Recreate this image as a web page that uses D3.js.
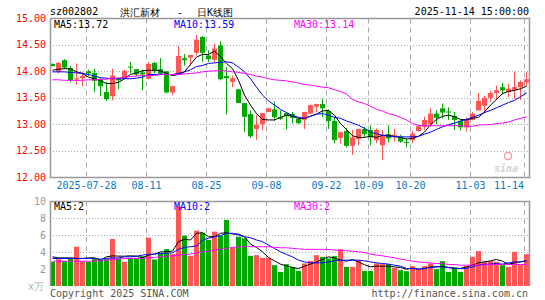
<!DOCTYPE html>
<html>
<head>
<meta charset="utf-8">
<script src="https://cdn.jsdelivr.net/npm/d3@7"></script>
<style>
  body { margin: 0; background: #fff; }
  svg { display: block; }
  text { font-family: "DejaVu Sans Mono", "Liberation Mono", monospace; font-size: 10px; }
</style>
</head>
<body>
<svg width="545" height="300"></svg>
<script>
// trading days shown
const dates = [
  "07-18","07-21","07-22","07-23","07-24","07-25","07-28","07-29","07-30","07-31",
  "08-01","08-04","08-05","08-06","08-07","08-08","08-11","08-12","08-13","08-14",
  "08-15","08-18","08-19","08-20","08-21","08-22","08-25","08-26","08-27","08-28",
  "08-29","09-01","09-02","09-03","09-04","09-05","09-08","09-09","09-10","09-11",
  "09-12","09-15","09-16","09-17","09-18","09-19","09-22","09-23","09-24","09-25",
  "09-26","09-29","09-30","10-09","10-10","10-13","10-14","10-15","10-16","10-17",
  "10-20","10-21","10-22","10-23","10-24","10-27","10-28","10-29","10-30","10-31",
  "11-03","11-04","11-05","11-06","11-07","11-10","11-11","11-12","11-13","11-14"
];

const opens = [
  14.14,13.99,14.21,14.06,13.85,13.87,14.00,13.97,13.85,13.61,
  13.53,13.87,13.87,14.09,14.04,13.98,13.86,14.16,14.04,14.00,
  13.60,13.94,14.25,14.26,14.35,14.65,14.30,14.22,14.49,13.91,
  13.80,13.66,13.40,13.19,12.91,13.00,13.23,13.28,13.13,13.21,
  13.19,13.10,13.08,13.20,13.33,13.38,13.25,13.06,12.74,12.87,
  12.59,12.72,12.91,12.89,12.70,12.60,12.81,12.78,12.76,12.66,
  12.70,12.87,12.95,13.00,13.20,13.30,13.24,13.16,13.06,12.94,
  13.08,13.26,13.35,13.50,13.59,13.70,13.61,13.65,13.70,13.79
];
const highs = [
  14.15,14.18,14.23,14.10,14.15,13.99,14.03,14.05,13.88,13.80,
  14.05,13.89,14.03,14.18,14.04,14.03,14.18,14.18,14.25,14.00,
  13.73,14.48,14.33,14.31,14.69,14.67,14.40,14.52,14.57,14.08,
  13.92,13.66,13.40,13.26,13.17,13.21,13.31,13.43,13.26,13.23,
  13.23,13.12,13.23,13.37,13.39,13.48,13.28,13.13,12.86,12.93,
  12.89,12.91,12.95,12.98,12.92,12.89,12.98,12.91,12.80,12.73,
  12.87,12.98,13.14,13.30,13.26,13.39,13.32,13.23,13.07,13.13,
  13.23,13.59,13.54,13.64,13.73,13.78,13.76,13.99,13.83,13.99
];
const lows = [
  14.09,13.96,14.05,13.79,13.75,13.72,13.91,13.61,13.53,13.44,
  13.45,13.66,13.86,13.96,13.91,13.64,13.85,13.96,13.93,13.58,
  13.55,13.93,14.11,14.10,14.30,14.18,14.18,14.16,13.83,13.18,
  13.70,13.40,12.85,12.74,12.70,12.89,13.23,13.06,13.08,12.90,
  13.01,13.00,12.91,13.19,13.23,13.13,12.91,12.64,12.63,12.56,
  12.42,12.60,12.76,12.60,12.64,12.32,12.65,12.67,12.65,12.56,
  12.64,12.86,12.89,12.95,13.00,13.11,13.08,12.89,12.88,12.86,
  13.07,13.26,13.20,13.42,13.46,13.56,13.51,13.48,13.46,13.72
];
const closes = [
  14.10,14.16,14.07,13.83,13.87,13.91,13.96,13.82,13.72,13.47,
  13.92,13.83,14.01,14.07,13.94,13.94,14.14,14.01,13.96,13.60,
  13.72,14.29,14.21,14.31,14.60,14.35,14.23,14.43,13.85,13.87,
  13.87,13.40,13.14,12.77,12.99,13.21,13.30,13.13,13.10,13.15,
  13.12,13.02,13.23,13.36,13.38,13.30,13.06,12.70,12.85,12.59,
  12.75,12.91,12.81,12.75,12.89,12.79,12.73,12.80,12.67,12.65,
  12.82,12.96,13.08,13.20,13.12,13.22,13.23,13.08,12.94,13.08,
  13.20,13.44,13.50,13.59,13.64,13.64,13.67,13.70,13.80,13.85
];

// price moving averages
const ma5 = [
  14.02,14.04,14.05,14.05,13.99,13.96,13.89,13.86,13.82,13.77,
  13.77,13.79,13.86,13.94,13.97,14.01,14.02,14.02,14.01,13.96,
  13.92,13.94,13.99,14.13,14.27,14.32,14.32,14.38,14.28,14.15,
  14.05,13.83,13.55,13.36,13.20,13.09,13.08,13.08,13.13,13.17,
  13.15,13.11,13.11,13.15,13.19,13.25,13.26,13.17,13.01,12.90,
  12.78,12.75,12.75,12.77,12.75,12.79,12.79,12.77,12.75,12.72,
  12.73,12.77,12.85,12.99,13.09,13.15,13.17,13.14,13.09,13.08,
  13.11,13.13,13.23,13.36,13.47,13.58,13.62,13.64,13.67,13.72
];
const ma10 = [
  13.99,13.99,13.99,13.98,13.97,13.96,13.94,13.91,13.88,13.87,
  13.86,13.86,13.86,13.86,13.87,13.89,13.94,13.94,13.95,13.94,
  13.94,13.96,13.99,14.03,14.09,14.11,14.15,14.16,14.17,14.18,
  14.16,14.08,13.99,13.86,13.70,13.55,13.44,13.36,13.28,13.22,
  13.16,13.13,13.11,13.15,13.19,13.20,13.17,13.13,13.11,13.06,
  13.02,12.98,12.92,12.85,12.82,12.79,12.77,12.76,12.76,12.76,
  12.76,12.77,12.81,12.85,12.90,12.95,12.99,13.02,13.06,13.09,
  13.13,13.17,13.22,13.26,13.31,13.36,13.41,13.45,13.52,13.59
];
const ma30 = [
  13.84,13.84,13.83,13.83,13.83,13.83,13.84,13.84,13.85,13.85,
  13.87,13.87,13.89,13.90,13.91,13.92,13.92,13.92,13.94,13.94,
  13.94,13.94,13.95,13.96,13.97,13.99,14.00,14.01,14.01,14.01,
  13.99,13.98,13.96,13.94,13.91,13.89,13.86,13.84,13.83,13.82,
  13.80,13.78,13.75,13.74,13.72,13.70,13.69,13.65,13.62,13.57,
  13.47,13.42,13.39,13.34,13.28,13.25,13.20,13.17,13.13,13.08,
  13.01,12.98,12.97,12.97,12.97,12.97,12.97,12.97,12.97,12.96,
  12.96,12.98,12.99,12.99,13.01,13.02,13.04,13.08,13.11,13.14
];

// volume (万手) and its moving averages
const volumes = [
  2.84,3.16,2.92,3.24,4.62,2.92,2.84,3.31,3.04,3.16,
  5.53,3.24,2.84,3.31,3.31,3.51,5.68,3.12,3.91,4.34,
  3.75,9.35,5.92,3.55,6.50,6.27,5.41,6.39,5.92,7.78,
  4.54,5.80,5.61,3.55,3.63,3.31,3.31,2.45,1.66,2.57,
  2.25,1.78,2.65,2.96,3.63,3.43,3.24,3.51,4.31,2.25,
  2.25,3.04,1.78,1.78,2.65,2.57,2.57,2.13,1.86,1.74,
  2.33,1.94,2.33,2.65,1.98,2.92,1.66,2.17,1.66,2.37,
  3.43,4.11,2.84,2.92,2.84,2.45,2.25,4.02,2.45,3.75
];
const volMa5 = [
  3.43,3.31,3.31,3.31,3.24,3.24,3.31,3.31,3.04,3.43,
  3.55,3.51,3.51,3.55,3.51,3.31,3.63,3.75,4.02,4.02,
  4.11,5.21,5.49,5.41,6.20,6.27,5.80,5.80,6.20,6.27,
  6.12,6.12,5.80,4.93,4.54,4.02,3.36,2.96,2.57,2.37,
  2.17,2.06,2.33,2.57,2.84,3.12,3.43,3.31,3.04,2.92,
  3.12,2.84,2.50,2.25,2.33,2.33,2.33,2.25,2.17,1.98,
  2.10,1.98,2.06,2.25,2.25,2.33,2.17,2.10,2.06,2.25,
  2.45,2.72,2.84,2.96,3.12,2.92,2.57,2.72,2.84,2.96
];
const volMa10 = [
  3.24,3.24,3.24,3.24,3.24,3.24,3.24,3.24,3.16,3.24,
  3.31,3.31,3.43,3.43,3.51,3.63,3.75,3.75,3.83,3.83,
  3.91,4.31,4.54,4.62,4.70,5.41,5.61,5.80,5.92,6.20,
  6.20,6.00,5.80,5.68,5.41,5.21,4.82,4.43,4.02,3.71,
  3.43,3.04,2.84,2.72,2.72,2.72,2.84,2.96,3.04,3.04,
  3.04,3.04,2.96,2.84,2.72,2.65,2.57,2.45,2.33,2.06,
  2.06,1.98,2.06,2.17,2.25,2.25,2.17,2.06,2.06,2.06,
  2.25,2.45,2.57,2.57,2.65,2.57,2.72,2.84,2.84,2.96
];
const volMa30 = [
  2.92,2.92,2.92,2.92,2.92,2.92,2.92,2.92,2.96,3.04,
  3.10,3.16,3.24,3.24,3.24,3.24,3.31,3.36,3.43,3.51,
  3.55,3.63,3.70,3.75,3.91,4.02,4.10,4.22,4.34,4.43,
  4.54,4.62,4.62,4.62,4.62,4.62,4.62,4.54,4.50,4.50,
  4.43,4.37,4.31,4.31,4.31,4.31,4.31,4.22,4.22,4.14,
  4.10,4.02,3.95,3.75,3.63,3.55,3.43,3.31,3.16,3.04,
  2.92,2.84,2.76,2.72,2.65,2.65,2.53,2.53,2.45,2.45,
  2.45,2.45,2.45,2.53,2.53,2.53,2.53,2.53,2.53,2.53
];

const tickDates = ["07-28","08-11","08-25","09-08","09-22","10-09","10-20","11-03","11-14"];
const tickLabels = ["2025-07-28","08-11","08-25","09-08","09-22","10-09","10-20","11-03","11-14"];
const priceTicks = [15.0, 14.5, 14.0, 13.5, 13.0, 12.5, 12.0];
const volTicks = [10, 8, 6, 4, 2];

const priceLegend = ["MA5:13.72", "MA10:13.59", "MA30:13.14"];
const volLegend = ["MA5:2", "MA10:2", "MA30:2"];
const lineColors = ["#000000", "#0000ff", "#ff00ff"];

const UP = "#ff5555";
const DOWN = "#00a800";
const GRID = "#aaaaaa";
const FRAME = "#999999";

const svg = d3.select("svg");

const left = 50, right = 529;

// prettier-ignore
const x = d3.scaleLinear()
    .domain([0, dates.length - 1])
    .range([52.5, 526.5])

// prettier-ignore
const y = d3.scaleLinear()
    .domain([12, 15])
    .range([177, 18.5])

// prettier-ignore
const yv = d3.scaleLinear()
    .domain([0, 10])
    .range([286, 201])

const idx = d3.range(dates.length);
const crisp = (v) => Math.round(v) + 0.5;
const gridX = (d) => crisp(x(dates.indexOf(d)) - 2.5);

// grid lines
const grid = svg.append("g").attr("class", "grid");

// prettier-ignore
grid.selectAll("line.h")
    .data(priceTicks.slice(1, -1))
    .join("line")
    .attr("x1", left).attr("x2", right)
    .attr("y1", (d) => crisp(y(d))).attr("y2", (d) => crisp(y(d)))
    .attr("stroke", GRID)
    .attr("stroke-dasharray", "1,2")

// prettier-ignore
grid.selectAll("line.vh")
    .data(volTicks.slice(1))
    .join("line")
    .attr("x1", left).attr("x2", right)
    .attr("y1", (d) => crisp(yv(d))).attr("y2", (d) => crisp(yv(d)))
    .attr("stroke", GRID)
    .attr("stroke-dasharray", "1,2")

tickDates.forEach((d) => {
  [[y(15), y(12)], [yv(10), yv(0)]].forEach(([y1, y2]) => {
    // prettier-ignore
    grid.append("line")
        .attr("x1", gridX(d)).attr("x2", gridX(d))
        .attr("y1", y1).attr("y2", y2)
        .attr("stroke", GRID)
        .attr("stroke-dasharray", "5,4")
  });
});

// sina watermark
// prettier-ignore
svg.append("text")
    .attr("x", 494).attr("y", 172)
    .attr("font-family", "Liberation Sans, Arial, sans-serif")
    .attr("font-size", 14).attr("font-weight", "bold").attr("font-style", "italic")
    .attr("fill", "#d4d4d4")
    .text("sina")
// prettier-ignore
svg.append("circle")
    .attr("cx", 508).attr("cy", 156).attr("r", 3.5)
    .attr("fill", "none").attr("stroke", "#f6a0a0").attr("stroke-width", 1.5)

// candles
const candles = svg.append("g").attr("class", "candles");
const isUp = (i) => closes[i] >= opens[i];

// prettier-ignore
candles.selectAll("rect.wick")
    .data(idx)
    .join("rect")
    .attr("x", (i) => x(i) - 0.5)
    .attr("y", (i) => y(highs[i]))
    .attr("width", 1)
    .attr("height", (i) => Math.max(1, y(lows[i]) - y(highs[i])))
    .attr("fill", (i) => (isUp(i) ? UP : DOWN))

// prettier-ignore
candles.selectAll("rect.body")
    .data(idx)
    .join("rect")
    .attr("x", (i) => x(i) - 2.5)
    .attr("y", (i) => y(Math.max(opens[i], closes[i])))
    .attr("width", 5)
    .attr("height", (i) => Math.max(1, Math.abs(y(opens[i]) - y(closes[i]))))
    .attr("fill", (i) => (isUp(i) ? UP : DOWN))

// volume bars
// prettier-ignore
svg.append("g")
    .selectAll("rect")
    .data(idx)
    .join("rect")
    .attr("x", (i) => x(i) - 2.5)
    .attr("y", (i) => yv(volumes[i]))
    .attr("width", 5)
    .attr("height", (i) => yv(0) - yv(volumes[i]))
    .attr("fill", (i) => (isUp(i) ? UP : DOWN))

// moving average lines
const priceLine = d3.line().x((d, i) => x(i)).y((d) => y(d));
const volLine = d3.line().x((d, i) => x(i)).y((d) => yv(d));

[ma5, ma10, ma30].forEach((s, k) => {
  svg.append("path").attr("d", priceLine(s))
    .attr("fill", "none").attr("stroke", lineColors[k]).attr("stroke-width", 1);
});
[volMa5, volMa10, volMa30].forEach((s, k) => {
  svg.append("path").attr("d", volLine(s))
    .attr("fill", "none").attr("stroke", lineColors[k]).attr("stroke-width", 1);
});

// frames
// prettier-ignore
svg.append("path")
    .attr("d", `M${left + 0.5},${y(15)}V${y(12) + 0.5}H${right + 0.5}V${y(15)}H${left + 0.5}`)
    .attr("fill", "none").attr("stroke", FRAME).attr("stroke-width", 1.5)
// prettier-ignore
svg.append("path")
    .attr("d", `M${left + 0.5},${yv(0)}V${yv(10) + 0.5}H${right + 0.5}V${yv(0)}`)
    .attr("fill", "none").attr("stroke", FRAME).attr("stroke-width", 1.5)

// axis labels
// prettier-ignore
svg.append("g")
    .selectAll("text")
    .data(priceTicks)
    .join("text")
    .attr("x", 46).attr("y", (d) => y(d))
    .attr("dy", "0.35em")
    .attr("text-anchor", "end")
    .attr("fill", "#ff0000")
    .text((d) => d.toFixed(2))

// prettier-ignore
svg.append("g")
    .selectAll("text")
    .data(volTicks)
    .join("text")
    .attr("x", 46).attr("y", (d) => yv(d))
    .attr("dy", "0.35em")
    .attr("text-anchor", "end")
    .attr("fill", "#999999")
    .text((d) => d)

// prettier-ignore
svg.append("g")
    .selectAll("text")
    .data(tickDates)
    .join("text")
    .attr("x", (d, i) => Math.min(gridX(d), 524 - tickLabels[i].length * 3))
    .attr("y", 189)
    .attr("text-anchor", "middle")
    .attr("fill", "#0a78c8")
    .text((d, i) => tickLabels[i])

// legends
const legendX = [54, 174, 294];
priceLegend.forEach((t, k) => {
  svg.append("text").attr("x", legendX[k]).attr("y", 27.5)
    .attr("fill", lineColors[k]).text(t);
});
volLegend.forEach((t, k) => {
  svg.append("text").attr("x", legendX[k]).attr("y", 209.5)
    .attr("fill", lineColors[k]).text(t);
});

// header
svg.append("text").attr("x", 50).attr("y", 15).attr("font-size", 11).text("sz002802");
// prettier-ignore
svg.append("text")
    .attr("x", 120).attr("y", 15.5)
    .attr("font-family", "Noto Sans CJK SC")
    .attr("font-size", 12)
    .text("洪汇新材")
// prettier-ignore
svg.append("text")
    .attr("x", 180).attr("y", 15.5)
    .attr("text-anchor", "middle")
    .attr("font-size", 11)
    .text("-")
// prettier-ignore
svg.append("text")
    .attr("x", 197).attr("y", 15.5)
    .attr("font-family", "Noto Sans CJK SC")
    .attr("font-size", 12)
    .text("日K线图")
// prettier-ignore
svg.append("text")
    .attr("x", 529).attr("y", 15)
    .attr("text-anchor", "end")
    .attr("font-size", 11)
    .text("2025-11-14 15:00:00")

// footer
// prettier-ignore
svg.append("text")
    .attr("x", 28).attr("y", 290)
    .attr("font-family", "Noto Sans CJK SC")
    .attr("font-size", 9)
    .attr("fill", "#b0b0b0")
    .text("x万")
// prettier-ignore
svg.append("text")
    .attr("x", 50).attr("y", 297)
    .attr("fill", "#555555")
    .text("Copyright 2025 SINA.COM")
// prettier-ignore
svg.append("text")
    .attr("x", 528).attr("y", 297)
    .attr("text-anchor", "end")
    .attr("fill", "#555555")
    .text("http://finance.sina.com.cn")
</script>
</body>
</html>
